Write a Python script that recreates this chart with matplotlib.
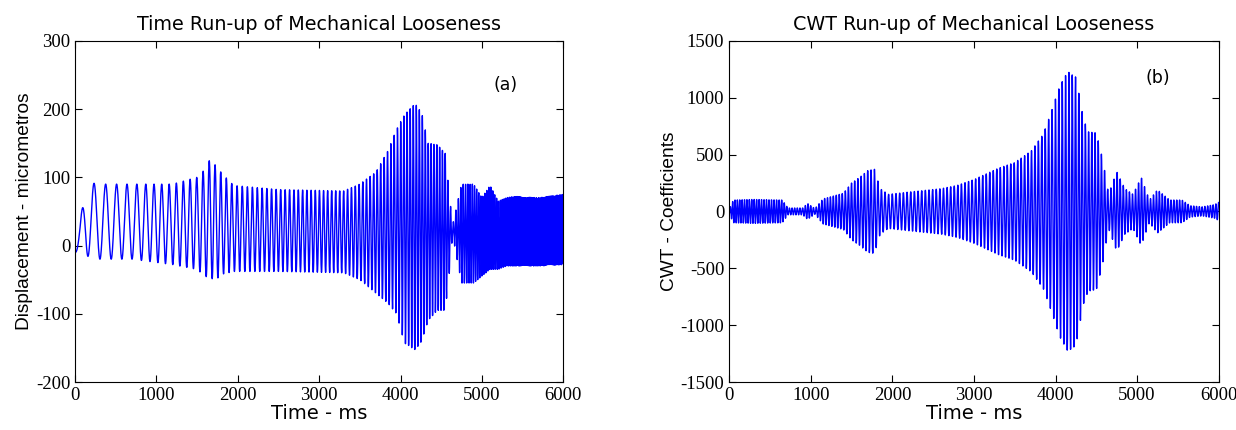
import numpy as np
import matplotlib
matplotlib.use('Agg')
import matplotlib.pyplot as plt

plt.rcParams['axes.unicode_minus'] = False

# --- panel (a): envelope of the displacement run-up ---
a_t = [0, 60, 130, 300, 700, 1200, 1500, 1600, 1660, 1730, 1810, 1950, 2500, 3300,
       3500, 3700, 3850, 3950, 4050, 4180, 4260, 4340, 4450, 4550, 4600, 4640,
       4750, 4900, 5000, 5100, 5200, 5300, 5400, 5700, 6000]
a_up = [0, 30, 93, 90, 90, 90, 100, 112, 127, 117, 105, 88, 82, 80,
        90, 108, 140, 170, 192, 208, 195, 150, 148, 135, 75, 30,
        90, 90, 70, 88, 65, 70, 72, 70, 75]
a_lo = [-10, -12, -15, -20, -20, -28, -35, -45, -48, -50, -42, -38, -38, -40,
        -50, -70, -85, -100, -143, -153, -140, -110, -95, -95, -40, 15,
        -55, -55, -45, -35, -35, -30, -30, -30, -28]
# cycle rate (Hz) along the run-up
a_ft = [0, 300, 700, 1000, 1500, 1700, 2500, 3400, 4100, 4600, 5000, 5350, 5450, 6000]
a_fv = [6, 7, 8.2, 10.5, 12.5, 14, 18, 21, 26, 30, 40, 45, 70, 80]

# --- panel (b): CWT coefficient envelope ---
b_t = [0, 50, 300, 650, 720, 900, 960, 1050, 1150, 1400,
       1500, 1600, 1700, 1780, 1850, 1950, 2200, 2600, 2800, 3000,
       3300, 3500, 3700, 3850, 3950, 4050, 4150, 4250, 4340, 4400,
       4500, 4580, 4650, 4750, 4850, 4950, 5050, 5150, 5250, 5400,
       5550, 5650, 5800, 5950, 6000]
b_amp = [20, 100, 105, 100, 30, 30, 70, 25, 110, 160,
         250, 300, 360, 370, 200, 150, 170, 200, 230, 280,
         380, 430, 530, 680, 880, 1100, 1230, 1180, 820, 700,
         690, 450, 150, 350, 200, 150, 300, 100, 190, 100,
         100, 50, 40, 60, 80]
b_ft = [0, 1000, 2000, 4000, 6000]
b_fv = [35, 30, 22, 24, 30]

t = np.arange(0, 6001, 1.0)


def trace(tt, up, lo, ft, fv):
    up = np.interp(t, tt, up)
    lo = np.interp(t, tt, lo)
    f = np.interp(t, ft, fv)
    ph = 2 * np.pi * np.cumsum(f) / 1000.0
    return (up + lo) / 2 - (up - lo) / 2 * np.cos(ph)


ya = trace(a_t, a_up, a_lo, a_ft, a_fv)
b_amp = np.array(b_amp)
yb = trace(b_t, b_amp, -b_amp, b_ft, b_fv)

fig = plt.figure(figsize=(12.36, 4.3), dpi=100)
ax1 = fig.add_axes([0.0607, 0.1116, 0.395, 0.7935])
ax2 = fig.add_axes([0.590, 0.1116, 0.396, 0.7935])

serif = 'Liberation Serif'
sans = 'DejaVu Sans'

panels = [
    (ax1, ya, (-200, 300), [-200, -100, 0, 100, 200, 300], 'Displacement - micrometros',
     'Time Run-up of Mechanical Looseness', '(a)', 5290, 235),
    (ax2, yb, (-1500, 1500), [-1500, -1000, -500, 0, 500, 1000, 1500], 'CWT - Coefficients',
     'CWT Run-up of Mechanical Looseness', '(b)', 5250, 1172),
]

for ax, y, ylim, yt, ylab, title, tag, tag_x, tag_y in panels:
    ax.plot(t, y, color='blue', lw=1.0)
    ax.set_xlim(0, 6000)
    ax.set_ylim(*ylim)
    ax.set_xticks(range(0, 6001, 1000))
    ax.set_yticks(yt)
    ax.tick_params(direction='in', top=True, right=True, length=5)
    for lab in ax.get_xticklabels() + ax.get_yticklabels():
        lab.set_fontfamily(serif)
        lab.set_fontsize(13.5)
    ax.set_xlabel('Time - ms', fontsize=14, family=sans, labelpad=0)
    ax.set_ylabel(ylab, fontsize=13.8, family='Liberation Sans', labelpad=2)
    ax.set_title(title, fontsize=13.8, family=sans, pad=8)
    ax.text(tag_x, tag_y, tag, fontsize=12.5, family=sans, ha='center', va='center')

fig.savefig('out.png', dpi=100)
